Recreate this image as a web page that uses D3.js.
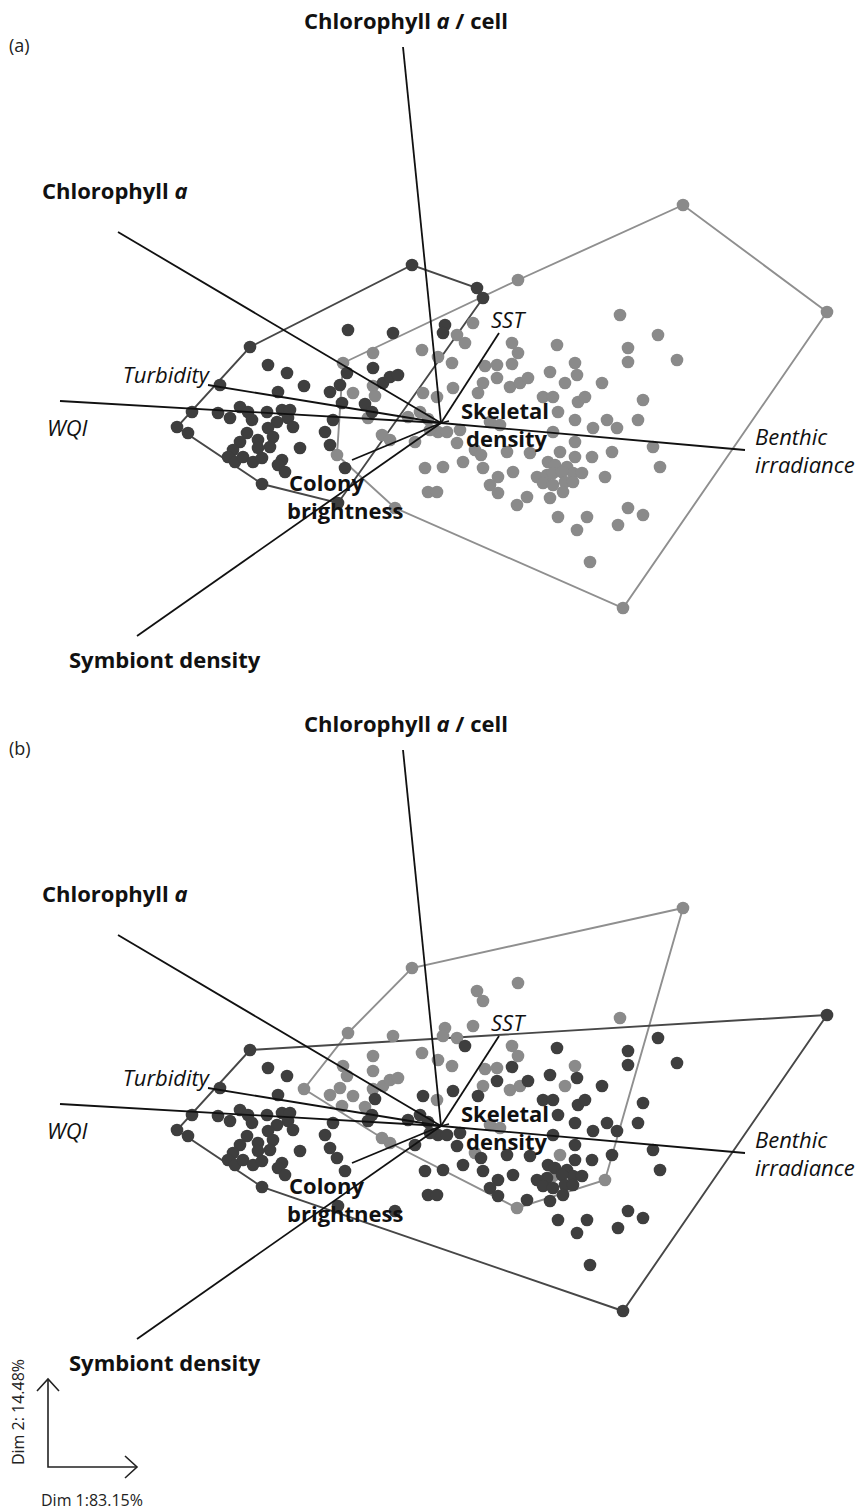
<!DOCTYPE html>
<html>
<head>
<meta charset="utf-8">
<script src="https://cdn.jsdelivr.net/npm/d3@7"></script>
<style>
  body { margin: 0; background: #fff; }
  svg { display: block; font-family: "Open Sans", sans-serif; }
</style>
</head>
<body>
<svg id="chart"></svg>
<script>
// sample scores on Dim 1 / Dim 2 (same samples in both panels)
const scores = [
  [-1.73,0.58],[-1.54,0.50],[-1.37,0.37],[-1.63,0.31],[-2.21,0.38],[-1.11,0.31],[-1.01,0.38],[-0.98,0.60],
  [-0.68,0.55],[-0.58,0.40],[-0.68,0.37],[-0.88,0.30],[-0.66,0.27],[-0.99,0.20],[-0.76,0.19],[-0.69,0.11],
  [-0.73,0.05],[-2.49,0.11],[-2.64,-0.04],[-2.53,-0.10],[-2.23,0.10],[-2.11,0.05],[-2.01,0.16],[-1.93,0.11],
  [-1.89,0.03],[-1.74,0.11],[-1.59,0.13],[-1.51,0.13],[-1.53,0.05],[-1.64,0.01],[-1.73,-0.05],[-1.48,-0.04],
  [-1.94,-0.10],[-2.01,-0.19],[-1.83,-0.17],[-1.68,-0.14],[-1.71,-0.24],[-1.83,-0.25],[-2.08,-0.27],[-2.13,-0.34],
  [-2.06,-0.39],[-1.98,-0.34],[-1.88,-0.39],[-1.79,-0.35],[-1.59,-0.37],[-1.63,-0.42],[-1.56,-0.49],[-1.41,-0.25],
  [-1.16,-0.09],[-1.08,0.03],[-1.11,-0.22],[-1.04,-0.32],[-0.96,-0.45],[-1.79,-0.61],[-0.59,-0.12],[-0.29,1.58],
  [-1.91,0.76],[-0.93,0.93],[-0.48,0.90],[0.04,0.98],[0.02,0.90],[0.16,0.88],[-0.68,0.70],[-0.19,0.73],
  [-0.51,0.46],[-0.43,0.48],[-0.94,0.50],[-0.03,0.66],[0.11,0.60],[-0.18,0.30],[-0.04,0.26],[0.12,0.35],
  [-0.33,0.06],[-0.51,-0.17],[-0.26,-0.19],[-0.03,-0.09],[0.06,-0.09],[0.16,-0.20],[-0.16,-0.45],[0.02,-0.44],
  [-0.13,-0.69],[-0.04,-0.69],[-1.03,-0.80],[2.42,2.18],[0.36,1.35],[0.42,1.25],[0.77,1.43],[0.32,1.00],
  [0.24,0.80],[1.79,1.08],[2.17,0.88],[0.71,0.80],[0.77,0.70],[1.16,0.78],[1.87,0.75],[1.87,0.61],
  [2.36,0.63],[0.44,0.57],[0.56,0.58],[0.71,0.59],[1.34,0.60],[1.36,0.48],[1.09,0.51],[0.56,0.45],
  [0.42,0.40],[0.69,0.36],[0.79,0.40],[0.87,0.45],[1.24,0.40],[1.61,0.40],[0.37,0.30],[1.02,0.26],
  [1.12,0.26],[1.37,0.21],[1.44,0.26],[2.02,0.23],[1.17,0.11],[1.34,0.03],[1.66,0.03],[1.76,-0.05],
  [1.97,0.03],[1.52,-0.05],[-0.21,0.11],[-0.13,0.04],[-0.11,-0.07],[0.34,-0.27],[0.89,-0.30],[1.19,-0.29],
  [1.34,-0.19],[1.34,-0.34],[1.51,-0.34],[1.71,-0.29],[2.12,-0.24],[2.19,-0.44],[1.64,-0.54],[0.22,-0.39],
  [0.42,-0.45],[0.57,-0.54],[0.72,-0.49],[0.96,-0.54],[1.06,-0.52],[1.26,-0.44],[1.32,-0.50],[1.41,-0.50],
  [0.49,-0.62],[0.40,-0.32],[0.57,-0.70],[0.76,-0.82],[0.86,-0.74],[1.02,-0.60],[1.07,-0.39],[1.14,-0.42],
  [1.12,-0.50],[1.21,-0.49],[1.12,-0.62],[1.24,-0.59],[1.32,-0.59],[1.22,-0.69],[1.09,-0.75],[1.17,-0.94],
  [1.46,-0.94],[1.36,-1.07],[1.77,-1.02],[1.87,-0.85],[2.02,-0.92],[1.49,-1.39],[1.82,-1.85],[3.86,1.11],
  [-0.46,-0.85],[0.19,-0.07],[0.49,0.01],[0.59,-0.02],[1.12,-0.09],[0.66,-0.29]
];

// group of each sample: 1 = dark group, 0 = light group
const groupA = [
  1,1,1,1,1,1,1,0, 1,1,0,0,0,1,1,1, 0,1,1,1,1,1,1,1, 1,1,1,1,1,1,1,1,
  1,1,1,1,1,1,1,1, 1,1,1,1,1,1,1,1, 1,1,1,0,1,1,0,1, 1,1,1,1,1,0,0,0,
  1,1,1,0,0,0,0,0, 0,0,0,0,0,0,0,0, 0,0,1,0,1,1,0,0, 0,0,0,0,0,0,0,0,
  0,0,0,0,0,0,0,0, 0,0,0,0,0,0,0,0, 0,0,0,0,0,0,0,0, 0,0,0,0,0,0,0,0,
  0,0,0,0,0,0,0,0, 0,0,0,0,0,0,0,0, 0,0,0,0,0,0,0,0, 0,0,0,0,0,0,0,0,
  0,0,0,0,0,0,0,0, 0,0,0,0,0,0
];
const groupB = [
  1,1,0,1,1,0,0,0, 0,0,0,0,1,0,0,1, 1,1,1,1,1,1,1,1, 1,1,1,1,1,1,1,1,
  1,1,1,1,1,1,1,1, 1,1,1,1,1,1,1,1, 1,1,1,1,1,1,0,0, 1,0,0,0,0,0,0,0,
  0,0,0,0,0,1,0,1, 1,0,1,1,1,1,1,1, 1,1,1,0,0,0,0,0, 1,0,1,0,0,1,1,1,
  1,0,0,1,0,1,1,1, 0,0,0,1,0,1,1,1, 1,1,1,1,1,1,1,1, 1,1,1,1,1,0,1,0,
  1,1,1,1,1,1,0,1, 1,1,1,1,1,1,1,1, 1,1,1,0,1,1,1,1, 0,1,1,1,1,1,1,1,
  1,1,1,1,1,1,1,1, 1,1,0,0,1,1
];

// variable vectors (loadings)
const variables = ['Chlorophyll a / cell', 'Chlorophyll a', 'Turbidity', 'WQI', 'Benthic irradiance',
                   'SST', 'Symbiont density', 'Colony brightness', 'Skeletal density'];
const loadDim1 = [-0.38, -3.23, -2.33, -3.81, 3.04, 0.58, -3.04, -0.89, 0.08];
const loadDim2 = [3.76, 1.91, 0.38, 0.22, -0.27, 0.90, -2.13, -0.37, 0.02];

const panels = ['(a)', '(b)'];
const axisLabels = ['Dim 1:83.15%', 'Dim 2: 14.48%'];

// ---- layout ----
const width = 862, height = 1510;
const originX = 441;
const panelOrigins = [423, 1126];
const unit = 100;
const fontSize = 22;

const colors = {dark: '#3e3e3e', light: '#8a8a8a', hullDark: '#474747', hullLight: '#8f8f8f'};

// label layout per variable (pixels relative to panel (a))
const labelLayout = {
  'Chlorophyll a / cell': {x: 406, y: 29, anchor: 'middle', bold: true},
  'Chlorophyll a': {x: 42, y: 199, anchor: 'start', bold: true},
  'Turbidity': {x: 209, y: 383, anchor: 'end', italic: true},
  'WQI': {x: 47, y: 436, anchor: 'start', italic: true},
  'Benthic irradiance': {x: 755, y: 445, anchor: 'start', italic: true, lines: ['Benthic', 'irradiance'], dx: [0, 0]},
  'SST': {x: 491, y: 328, anchor: 'start', italic: true},
  'Symbiont density': {x: 69, y: 668, anchor: 'start', bold: true},
  'Colony brightness': {x: 289, y: 491, anchor: 'start', bold: true, lines: ['Colony', 'brightness'], dx: [0, -2]},
  'Skeletal density': {x: 461, y: 419, anchor: 'start', bold: true, lines: ['Skeletal', 'density'], dx: [0, 5]}
};

const svg = d3.select('#chart')
  .attr('width', width)
  .attr('height', height);

const x = d3.scaleLinear().domain([0, 1]).range([originX, originX + unit]);

panels.forEach((name, p) => {
  const oy = panelOrigins[p];
  const shift = oy - panelOrigins[0];
  const y = d3.scaleLinear().domain([0, 1]).range([oy, oy - unit]);
  const groups = p === 0 ? groupA : groupB;
  const g = svg.append('g');

  // convex hulls of the two groups
  [0, 1].forEach(grp => {
    const pts = scores.filter((d, i) => groups[i] === grp).map(d => [x(d[0]), y(d[1])]);
    const hull = d3.polygonHull(pts);
    g.append('path')
      .attr('d', 'M' + hull.join('L') + 'Z')
      .attr('fill', 'none')
      .attr('stroke', grp === 1 ? colors.hullDark : colors.hullLight)
      .attr('stroke-width', 1.9);
  });

  // samples: light first, dark on top
  const order = d3.range(scores.length).sort((a, b) => groups[a] - groups[b]);
  g.selectAll('circle')
    .data(order)
    .enter()
    .append('circle')
    .attr('cx', i => x(scores[i][0]))
    .attr('cy', i => y(scores[i][1]))
    .attr('r', 6.3)
    .attr('fill', i => groups[i] === 1 ? colors.dark : colors.light);

  // variable vectors
  g.selectAll('line.vec')
    .data(variables)
    .enter()
    .append('line')
    .attr('class', 'vec')
    .attr('x1', x(0)).attr('y1', y(0))
    .attr('x2', (d, i) => x(loadDim1[i]))
    .attr('y2', (d, i) => y(loadDim2[i]))
    .attr('stroke', '#111')
    .attr('stroke-width', 1.8);

  // variable labels
  variables.forEach(v => {
    const L = labelLayout[v];
    const t = g.append('text')
      .attr('text-anchor', L.anchor)
      .attr('font-size', fontSize)
      .attr('font-weight', L.bold ? 700 : 400)
      .attr('font-style', L.italic ? 'italic' : 'normal')
      .attr('fill', '#111');
    if (L.lines) {
      L.lines.forEach((ln, k) => {
        t.append('tspan')
          .attr('x', L.x + L.dx[k])
          .attr('y', L.y + shift + k * 28)
          .text(ln);
      });
    } else if (v.includes(' a')) {
      // italic "a" in chlorophyll labels
      const parts = v.split(' a');
      t.attr('x', L.x).attr('y', L.y + shift);
      t.append('tspan').text(parts[0] + ' ');
      t.append('tspan').attr('font-style', 'italic').text('a');
      if (parts[1]) t.append('tspan').text(parts[1]);
    } else {
      t.attr('x', L.x).attr('y', L.y + shift).text(v);
    }
  });

  // panel letter
  g.append('text')
    .attr('x', 9)
    .attr('y', 52 + shift)
    .attr('font-size', 18)
    .attr('fill', '#222')
    .text(name);
});

// dimension key at bottom left
const key = svg.append('g').attr('stroke', '#222').attr('stroke-width', 1.6).attr('fill', 'none');
key.append('path').attr('d', 'M48,1379 L48,1467 L137,1467');
key.append('path').attr('d', 'M37,1391 L48,1379 L59,1391');
key.append('path').attr('d', 'M125,1456 L137,1467 L125,1478');

svg.append('text')
  .attr('x', 41).attr('y', 1506)
  .attr('font-size', 16)
  .attr('fill', '#222')
  .text(axisLabels[0]);

svg.append('text')
  .attr('transform', 'translate(24,1412) rotate(-90)')
  .attr('text-anchor', 'middle')
  .attr('font-size', 16)
  .attr('fill', '#222')
  .text(axisLabels[1]);
</script>
</body>
</html>
